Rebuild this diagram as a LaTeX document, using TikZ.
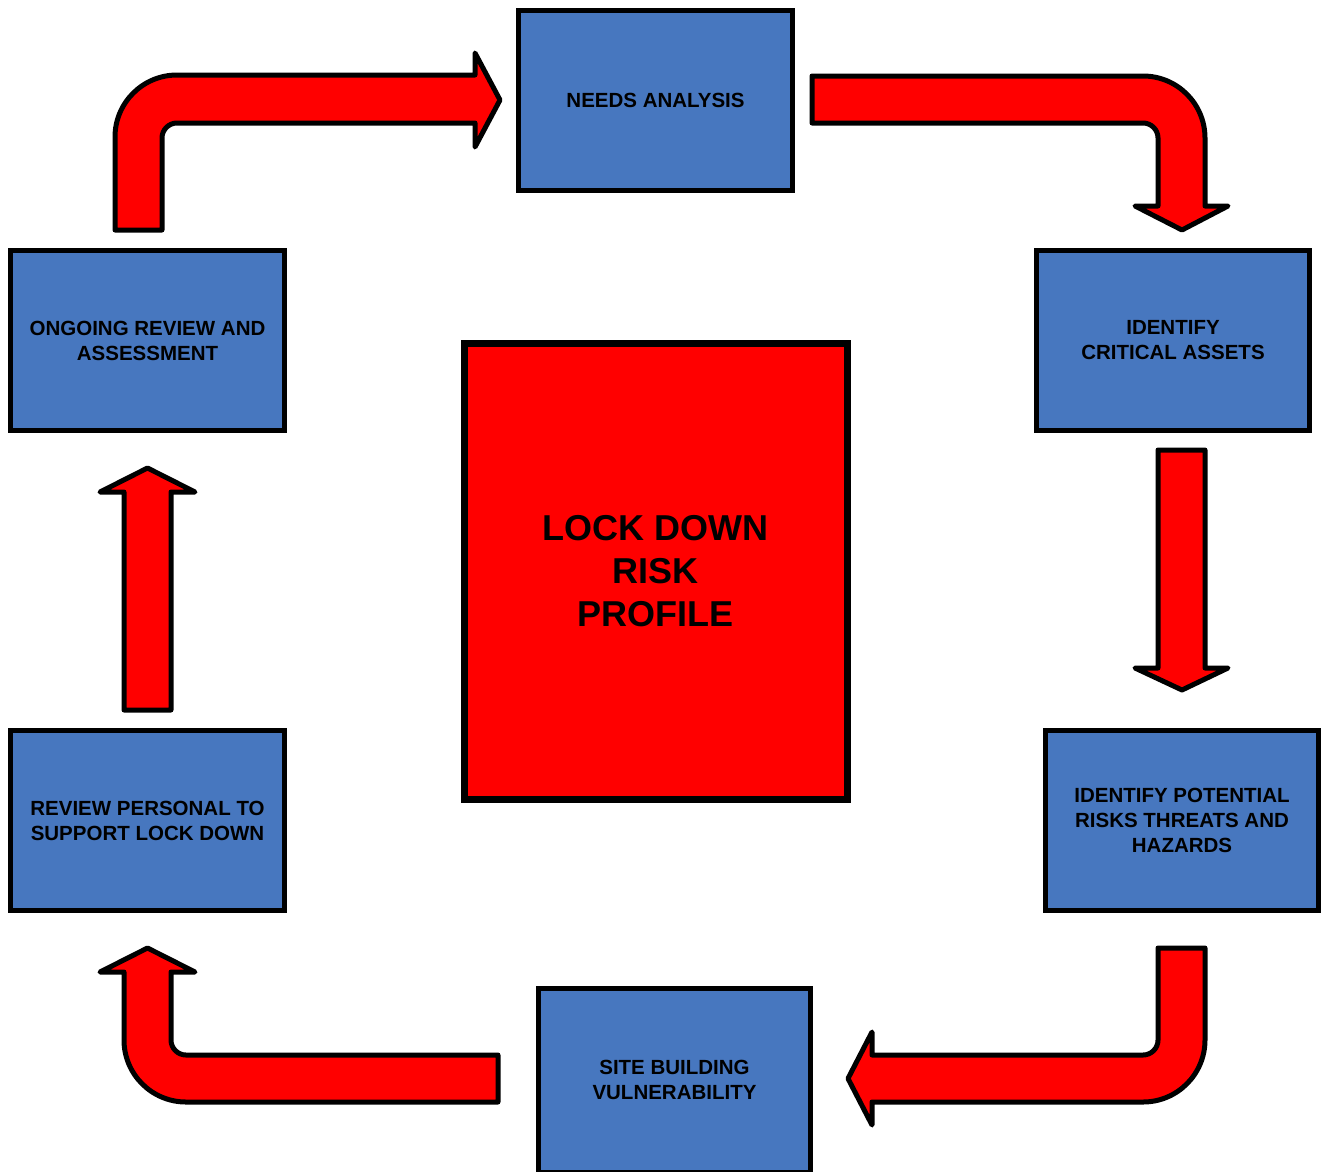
\documentclass[tikz,border=0pt]{standalone}
\usepackage{fontspec}
\setmainfont{Liberation Sans}
\definecolor{stepblue}{RGB}{71,119,191}
\definecolor{arrowred}{RGB}{255,0,0}
\begin{document}
\begin{tikzpicture}[x=1pt,y=-1pt,
  stepbox/.style={draw=black, line width=5pt, fill=stepblue, rectangle,
    align=center, inner sep=0pt, font=\bfseries\fontsize{20.5}{25}\selectfont},
  corebox/.style={draw=black, line width=7pt, fill=arrowred, rectangle,
    align=center, inner sep=0pt, font=\bfseries\fontsize{36}{43}\selectfont},
  blockarrow/.style={draw=black, line width=5pt, fill=arrowred, line join=round}]
\useasboundingbox (0,0) rectangle (1325,1171);

% process steps
\node[stepbox, minimum width=274.5, minimum height=180.5] (needs) at (655.5,100.5) {NEEDS ANALYSIS};
\node[stepbox, minimum width=273.5, minimum height=180.5] (assets) at (1173,340.5) {IDENTIFY\\CRITICAL ASSETS};
\node[stepbox, minimum width=273.5, minimum height=180.5] (risks) at (1182,820.5) {IDENTIFY POTENTIAL\\RISKS THREATS AND\\HAZARDS};
\node[stepbox, minimum width=272.5, minimum height=184] (site) at (674.5,1080) {SITE BUILDING\\VULNERABILITY};
\node[stepbox, minimum width=274.5, minimum height=180.5] (personal) at (147.5,820.5) {REVIEW PERSONAL TO\\SUPPORT LOCK DOWN};
\node[stepbox, minimum width=274.5, minimum height=180.5] (ongoing) at (147.5,340.5) {ONGOING REVIEW AND\\ASSESSMENT};

% central profile
\node[corebox, minimum width=383, minimum height=456] (core) at (655.5,571) {LOCK DOWN\\RISK\\PROFILE};

% ongoing -> needs (bent up, then right)
\draw[blockarrow] (115,230) -- (115,137)
  .. controls (115,102.76) and (142.76,75) .. (177,75)
  -- (475,75) -- (475,53) -- (500,100) -- (475,147) -- (475,123) -- (177,123)
  .. controls (168.72,123) and (162,129.72) .. (162,138)
  -- (162,230) -- cycle;

% needs -> assets (right, then bent down)
\draw[blockarrow] (812,76) -- (1143,76)
  .. controls (1177.24,76) and (1205,103.76) .. (1205,138)
  -- (1205,206) -- (1228,206) -- (1182,230) -- (1135,206) -- (1158,206) -- (1158,138)
  .. controls (1158,129.72) and (1151.28,123) .. (1143,123)
  -- (812,123) -- cycle;

% assets -> risks
\draw[blockarrow] (1158,450) -- (1205,450) -- (1205,668) -- (1228,668)
  -- (1182,690) -- (1135,668) -- (1158,668) -- cycle;

% risks -> site (down, then bent left)
\draw[blockarrow] (1158,948) -- (1205,948) -- (1205,1040)
  .. controls (1205,1074.24) and (1177.24,1102) .. (1143,1102)
  -- (872,1102) -- (872,1125) -- (848,1078.5) -- (872,1032) -- (872,1055) -- (1143,1055)
  .. controls (1151.28,1055) and (1158,1048.28) .. (1158,1040)
  -- cycle;

% site -> personal (left, then bent up)
\draw[blockarrow] (498,1055) -- (186,1055)
  .. controls (177.72,1055) and (171,1048.28) .. (171,1040)
  -- (171,972) -- (195,972) -- (147.5,948) -- (100,972) -- (124,972) -- (124,1040)
  .. controls (124,1074.24) and (151.76,1102) .. (186,1102)
  -- (498,1102) -- cycle;

% personal -> ongoing
\draw[blockarrow] (124,710) -- (124,492) -- (100,492) -- (147.5,468)
  -- (195,492) -- (171,492) -- (171,710) -- cycle;
\end{tikzpicture}
\end{document}
